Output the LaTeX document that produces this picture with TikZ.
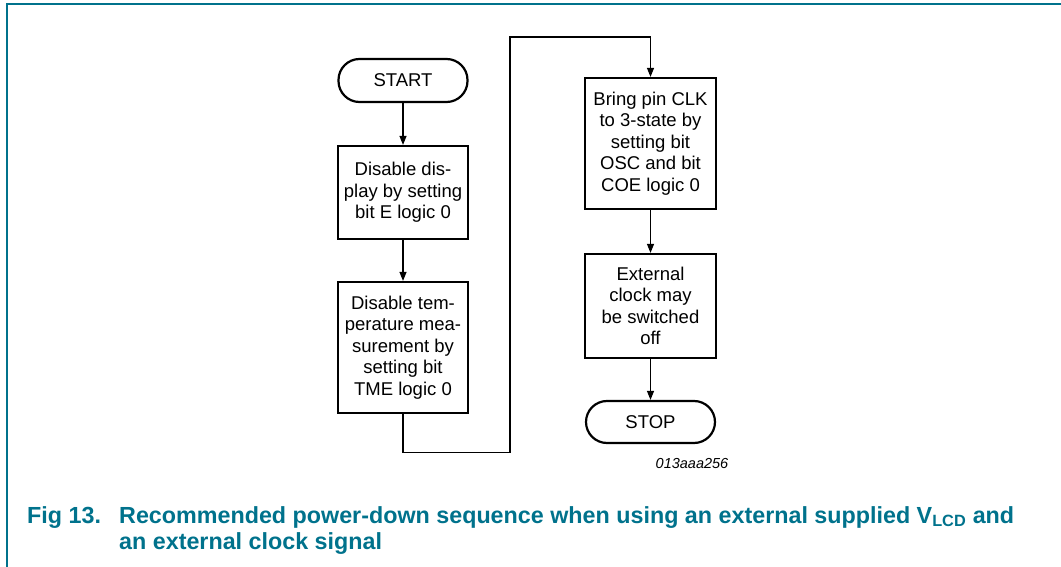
\documentclass[tikz,border=0pt]{standalone}
\usepackage{fontspec}
\setmainfont{Liberation Sans}
\usetikzlibrary{arrows.meta}
\definecolor{nxpteal}{RGB}{0,114,140}
\tikzset{
  boxstyle/.style={draw=black, line width=2.2pt, fill=white, align=center, inner sep=2pt,
     font=\fontsize{18.5}{21.5}\selectfont},
  termstyle/.style={boxstyle, rounded corners=21pt},
  conn/.style={draw=black, line width=1.1pt},
  arr/.style={conn, -{Triangle[length=9pt,width=7pt]}},
  captxt/.style={text=nxpteal, font=\fontsize{23.3}{27}\selectfont\bfseries, anchor=base west, inner sep=0pt}
}
\begin{document}
\begin{tikzpicture}[x=1pt,y=-1pt]
\useasboundingbox (0,0) rectangle (1061,567);
\draw[nxpteal, line width=2pt] (7,567) -- (7,4.5) -- (1061,4.5);

\node[termstyle, minimum width=129pt, minimum height=43pt] (start) at (403,80.5) {START};
\node[boxstyle, minimum width=130pt, minimum height=93pt] (b1) at (403,192.5) {Disable dis-\\play by setting\\bit E logic 0};
\node[boxstyle, minimum width=130pt, minimum height=131pt] (b2) at (403,347.5) {Disable tem-\\perature mea-\\surement by\\setting bit\\TME logic 0};
\node[boxstyle, minimum width=131pt, minimum height=131pt] (b3) at (650.5,143.5) {Bring pin CLK\\to 3-state by\\setting bit\\OSC and bit\\COE logic 0};
\node[boxstyle, minimum width=131pt, minimum height=104pt] (b4) at (650.5,306) {External\\clock may\\be switched\\off};
\node[termstyle, minimum width=129pt, minimum height=42pt] (stop) at (650.5,422) {STOP};

\coordinate (c1) at (403,452.5);
\coordinate (c2) at (510,452.5);
\coordinate (c3) at (510,37);
\coordinate (c4) at (650.5,37);

\draw[arr] (start) -- (b1);
\draw[arr] (b1) -- (b2);
\draw[arr] (b2.south) -- (c1) -- (c2) -- (c3) -- (c4) -- (b3.north);
\draw[arr] (b3) -- (b4);
\draw[arr] (b4) -- (stop);

\node[font=\fontsize{14.5}{16}\selectfont\itshape, inner sep=0pt] (code) at (692,464) {013aaa256};

\node[captxt] (fig) at (27,523) {Fig 13.};
\node[captxt] (cap1) at (119,523) {Recommended power-down sequence when using an external supplied V\textsubscript{LCD} and};
\node[captxt] (cap2) at (119,549) {an external clock signal};
\end{tikzpicture}
\end{document}
